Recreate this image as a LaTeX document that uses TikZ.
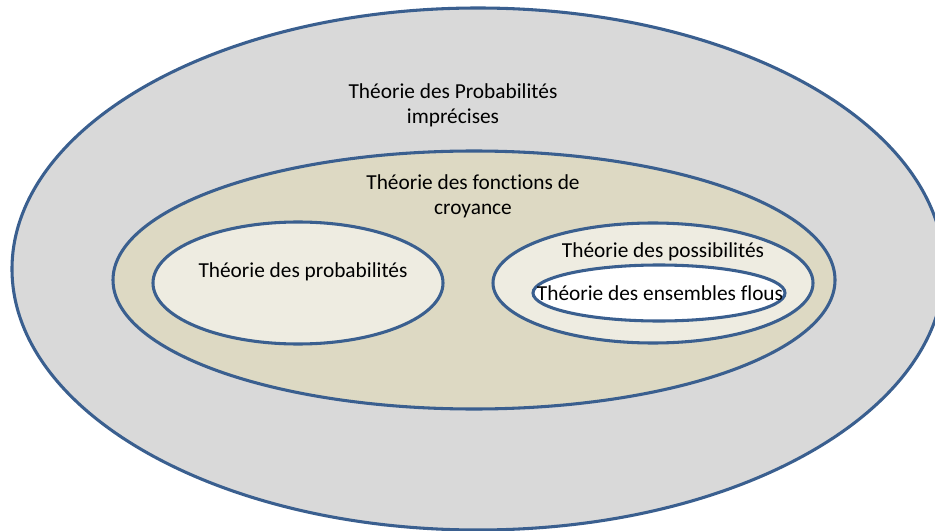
\documentclass[tikz,border=0pt]{standalone}
\usepackage{fontspec}
\setmainfont[Ligatures={NoCommon}]{Carlito}
\definecolor{edge}{HTML}{3A5F8F}
\definecolor{outerfill}{HTML}{D9D9D9}
\definecolor{tanfill}{HTML}{DDD9C3}
\definecolor{lightfill}{HTML}{EEECE1}
\tikzset{
  set/.style={draw=edge, line width=2.3pt},
  lbl/.style={font=\fontsize{16}{19}\selectfont, align=center, text=black, inner sep=0pt}
}
\begin{document}
\begin{tikzpicture}[x=0.75pt,y=-0.75pt]
\useasboundingbox (0,0) rectangle (935,531);
\clip (0,0) rectangle (935,531);
\fill[white] (0,0) rectangle (935,531);
\draw[set, fill=outerfill] (478,269) ellipse [x radius=466, y radius=261];
\draw[set, fill=tanfill] (474,280) ellipse [x radius=361, y radius=129];
\draw[set, fill=lightfill] (298,283) ellipse [x radius=145, y radius=61];
\draw[set, fill=lightfill] (653,283) ellipse [x radius=160, y radius=60];
\draw[set, fill=white] (659,293) ellipse [x radius=126, y radius=28];
\node[lbl] (imp) at (453,105) {Théorie des Probabilités\\imprécises};
\node[lbl] (cro) at (473,196) {Théorie des fonctions de\\croyance};
\node[lbl] (pro) at (303,272) {Théorie des probabilités};
\node[lbl] (pos) at (663,252) {Théorie des possibilités};
\node[lbl] (flo) at (660,293) {Théorie des ensembles flous};
\end{tikzpicture}
\end{document}
